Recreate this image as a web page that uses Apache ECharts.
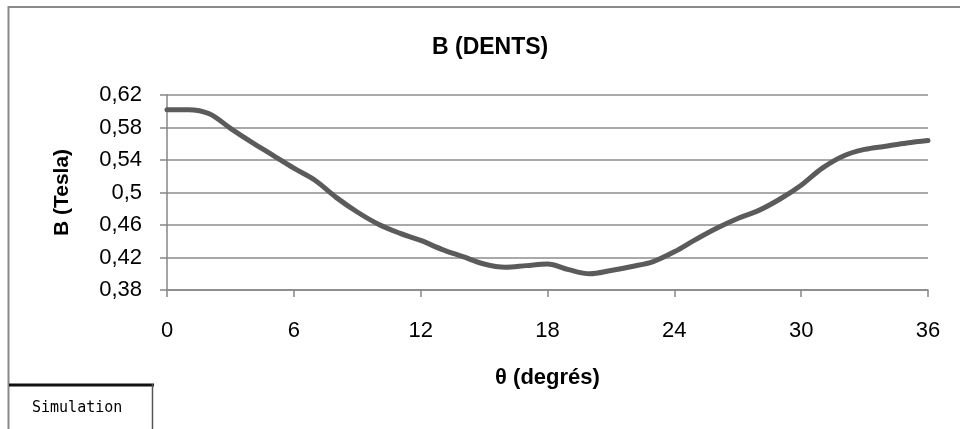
<!DOCTYPE html>
<html>
<head>
<meta charset="utf-8">
<script src="https://cdn.jsdelivr.net/npm/echarts@6/dist/echarts.min.js"></script>
<style>
html,body{margin:0;padding:0;background:#fff;}
#chart{width:960px;height:429px;}
</style>
</head>
<body>
<div id="chart"></div>
<script>
// ---- data ----
const thetaDeg = [0,1,2,3,4,5,6,7,8,9,10,11,12,13,14,15,16,17,18,19,20,21,22,23,24,25,26,27,28,29,30,31,32,33,34,35,36];
const bTesla = [0.602,0.602,0.597,0.579,0.562,0.546,0.530,0.515,0.494,0.476,0.461,0.450,0.441,0.430,0.421,0.412,0.408,0.410,0.412,0.405,0.400,0.404,0.409,0.415,0.427,0.442,0.456,0.468,0.478,0.492,0.509,0.530,0.545,0.553,0.557,0.561,0.564];
const seriesName = 'Simulation';
const chartTitle = 'B (DENTS)';
const xTitle = 'θ (degrés)';
const yTitle = 'B (Tesla)';

const chart = echarts.init(document.getElementById('chart'));
const pts = thetaDeg.map((t, i) => [t, bTesla[i]]);
const gray = '#868686';
chart.setOption({
  animation: false,
  backgroundColor: '#fff',
  title: {
    text: chartTitle,
    left: 427,
    top: 31,
    textStyle: {fontFamily: 'Liberation Sans', fontWeight: 'bold', fontSize: 23, color: '#000'}
  },
  legend: {
    data: [seriesName],
    left: 22,
    top: 396,
    icon: 'none',
    itemWidth: 0,
    itemHeight: 0,
    textStyle: {fontFamily: 'DejaVu Sans Mono', fontSize: 15, color: '#000'}
  },
  grid: {left: 167, right: 32, top: 95, bottom: 139, containLabel: false},
  xAxis: {
    type: 'value',
    min: 0, max: 36, interval: 6,
    name: xTitle,
    nameLocation: 'middle',
    nameGap: 77,
    nameTextStyle: {fontFamily: 'Liberation Sans', fontWeight: 'bold', fontSize: 22, color: '#000'},
    axisLine: {show: true, lineStyle: {color: gray, width: 1.5}},
    axisTick: {show: true, inside: false, length: 7, lineStyle: {color: gray, width: 1.5}},
    axisLabel: {margin: 30, fontFamily: 'Liberation Sans', fontSize: 22, color: '#000'},
    splitLine: {show: false}
  },
  yAxis: {
    type: 'value',
    min: 0.38, max: 0.62, interval: 0.04,
    name: yTitle,
    nameLocation: 'middle',
    nameRotate: 90,
    nameGap: 94,
    nameTextStyle: {fontFamily: 'Liberation Sans', fontWeight: 'bold', fontSize: 21, color: '#000'},
    axisLine: {show: true, lineStyle: {color: gray, width: 1.5}},
    axisTick: {show: true, inside: false, length: 7, lineStyle: {color: gray, width: 1.5}},
    axisLabel: {
      margin: 25, fontFamily: 'Liberation Sans', fontSize: 22, color: '#000',
      formatter: v => String(Math.round(v * 100) / 100).replace('.', ',')
    },
    splitLine: {show: true, lineStyle: {color: '#8c8c8c', width: 1.5}}
  },
  series: [{
    name: seriesName,
    type: 'line',
    data: pts,
    smooth: 0.35,
    showSymbol: false,
    symbol: 'none',
    lineStyle: {color: '#5b5b5b', width: 5, cap: 'round'},
    itemStyle: {color: '#5b5b5b'}
  }],
  graphic: [
    {type: 'polyline', shape: {points: [[8.5, 429], [8.5, 7], [960, 7]]}, style: {stroke: '#8a8a8a', lineWidth: 2, fill: null}, silent: true},
    {type: 'line', shape: {x1: 9, y1: 385, x2: 154, y2: 385}, style: {stroke: '#111', lineWidth: 3}, silent: true},
    {type: 'line', shape: {x1: 152.5, y1: 384, x2: 152.5, y2: 429}, style: {stroke: '#555', lineWidth: 1.5}, silent: true}
  ]
});
</script>
</body>
</html>
